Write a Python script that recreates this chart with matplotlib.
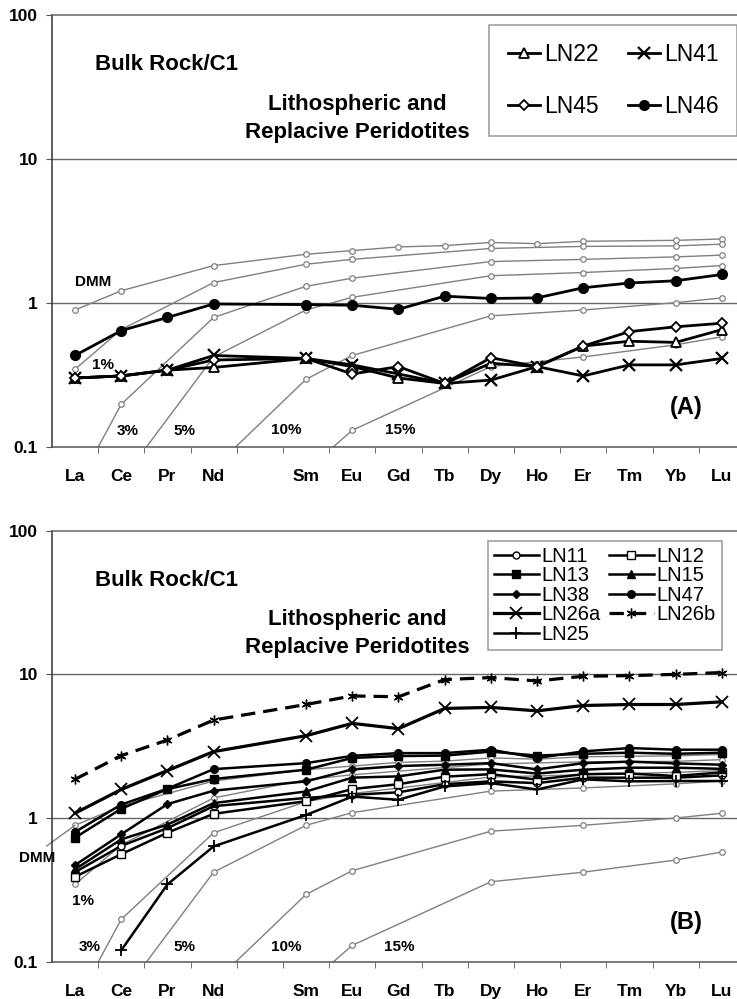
import numpy as np
import matplotlib.pyplot as plt
from matplotlib.ticker import NullLocator

plt.rcParams['font.family'] = ['Liberation Sans', 'DejaVu Sans']

# category axis (Pm left empty) and the REE that carry values
ticks = ["La", "Ce", "Pr", "Nd", "", "Sm", "Eu", "Gd", "Tb", "Dy", "Ho", "Er", "Tm", "Yb", "Lu"]
ree = ["La", "Ce", "Pr", "Nd", "Sm", "Eu", "Gd", "Tb", "Dy", "Ho", "Er", "Tm", "Yb", "Lu"]
nan = np.nan

# melting model curves, drawn in both panels
dmm = [0.89, 1.21, nan, 1.81, 2.17, 2.30, 2.44, 2.49, 2.62, 2.57, 2.67, nan, 2.71, 2.77]
melt_1 = [0.345, 0.65, nan, 1.38, 1.85, 2.0, nan, nan, 2.38, nan, 2.46, nan, 2.48, 2.55]
melt_3 = [0.05, 0.197, nan, 0.79, 1.30, 1.48, nan, nan, 1.93, nan, 2.0, nan, 2.08, 2.14]
melt_5 = [0.015, 0.058, nan, 0.42, 0.89, 1.09, nan, nan, 1.54, nan, 1.62, nan, 1.73, 1.81]
melt_10 = [nan, nan, nan, 0.071, 0.294, 0.43, nan, nan, 0.81, nan, 0.89, nan, 1.0, 1.08]
melt_15 = [nan, nan, nan, nan, 0.068, 0.13, nan, nan, 0.36, nan, 0.42, nan, 0.51, 0.58]

# panel A samples
ln22 = [0.30, 0.31, 0.34, 0.355, 0.41, 0.36, 0.30, 0.275, 0.38, 0.36, 0.50, 0.54, 0.53, 0.65]
ln41 = [0.30, 0.31, 0.34, 0.43, 0.41, 0.37, 0.32, 0.275, 0.29, 0.36, 0.31, 0.37, 0.37, 0.41]
ln45 = [0.30, 0.31, 0.34, 0.40, 0.41, 0.32, 0.36, 0.275, 0.415, 0.36, 0.50, 0.63, 0.68, 0.72]
ln46 = [0.43, 0.64, 0.79, 0.98, 0.97, 0.96, 0.90, 1.11, 1.07, 1.08, 1.27, 1.37, 1.42, 1.57]

# panel B samples
ln11 = [0.42, 0.64, 0.85, 1.21, 1.38, 1.45, 1.51, 1.72, 1.80, 1.75, 1.91, 1.91, 1.91, 1.98]
ln12 = [0.39, 0.56, 0.79, 1.07, 1.31, 1.59, 1.72, 1.94, 2.02, 1.85, 2.02, 2.04, 1.96, 2.08]
ln13 = [0.73, 1.16, 1.59, 1.87, 2.17, 2.62, 2.70, 2.72, 2.90, 2.72, 2.80, 2.85, 2.80, 2.85]
ln15 = [0.44, 0.71, 0.90, 1.27, 1.53, 1.91, 1.95, 2.17, 2.18, 2.04, 2.17, 2.24, 2.24, 2.20]
ln38 = [0.47, 0.77, 1.25, 1.55, 1.80, 2.18, 2.30, 2.35, 2.41, 2.18, 2.41, 2.47, 2.40, 2.35]
ln47 = [0.80, 1.24, 1.60, 2.19, 2.41, 2.71, 2.83, 2.83, 2.99, 2.62, 2.91, 3.07, 2.99, 2.99]
ln26a = [1.08, 1.58, 2.14, 2.90, 3.74, 4.56, 4.19, 5.79, 5.89, 5.57, 6.07, 6.17, 6.17, 6.44]
ln26b = [1.86, 2.72, 3.49, 4.81, 6.17, 7.08, 6.98, 9.2, 9.5, 9.0, 9.7, 9.8, 10.0, 10.3]
ln25 = [nan, 0.12, 0.345, 0.635, 1.05, 1.41, 1.34, 1.66, 1.75, 1.58, 1.86, 1.80, 1.81, 1.81]

pos = np.array([ticks.index(e) for e in ree])
GRAY = '#808080'
W, H = 737.0, 999.0

fig = plt.figure(figsize=(7.37, 9.99), dpi=100)


def make_axes(top_px, bottom_px):
    return fig.add_axes([51.9 / W, 1 - bottom_px / H, (745.0 - 51.9) / W,
                         (bottom_px - top_px) / H])


def series(ax, vals, **kw):
    v = np.array(vals, dtype=float)
    ok = ~np.isnan(v)
    return ax.plot(pos[ok], v[ok], **kw)[0]


def setup(ax):
    ax.set_yscale('log')
    ax.set_ylim(0.1, 100)
    ax.set_xlim(-0.5, 14.5)
    ax.set_yticks([0.1, 1, 10, 100])
    ax.set_yticklabels(['0.1', '1', '10', '100'], fontweight='bold', fontsize=12.5)
    ax.yaxis.set_minor_locator(NullLocator())
    ax.set_xticks(range(len(ticks)))
    ax.set_xticklabels(ticks, fontweight='bold', fontsize=12.5)
    ax.set_xticks(np.arange(0.5, 14, 1), minor=True)
    ax.tick_params(axis='x', which='major', length=0, pad=16)
    ax.tick_params(axis='x', which='minor', length=4, direction='out', color='#555555')
    ax.tick_params(axis='y', length=4, pad=6, color='#555555')
    for y in (1, 10):
        ax.axhline(y, color='#666666', lw=1, zorder=1)
    ax.spines['right'].set_visible(False)
    ax.spines['top'].set_color('#666666')
    ax.spines['left'].set_color('#333333')
    ax.spines['bottom'].set_color('#555555')
    for s in ('left', 'bottom', 'top'):
        ax.spines[s].set_linewidth(1.1)
    mk = dict(color=GRAY, lw=1, marker='o', ms=4, mfc='white', mec=GRAY, mew=0.9, zorder=2)
    for m in (dmm, melt_1, melt_3, melt_5, melt_10, melt_15):
        series(ax, m, **mk)


def labels(ax, tag, pct_pos, dmm_pos):
    ax.text(0.0615, 0.885, 'Bulk Rock/C1', transform=ax.transAxes, fontsize=16,
            fontweight='bold', ha='left', va='center')
    ax.text(0.4402, 0.793, 'Lithospheric and', transform=ax.transAxes, fontsize=16,
            fontweight='bold', ha='center', va='center')
    ax.text(0.4402, 0.728, 'Replacive Peridotites', transform=ax.transAxes, fontsize=16,
            fontweight='bold', ha='center', va='center')
    ax.text(0.9156, 0.09, tag, transform=ax.transAxes, fontsize=17,
            fontweight='bold', ha='center', va='center')
    for txt, (x, y) in zip(['1%', '3%', '5%', '10%', '15%'], pct_pos):
        ax.text(x, y, txt, transform=ax.transAxes, fontsize=11, fontweight='bold',
                ha='center', va='center')
    ax.text(dmm_pos[0], dmm_pos[1], 'DMM', transform=ax.transAxes, fontsize=11,
            fontweight='bold', ha='center', va='center', clip_on=False)


# ---------- panel A ----------
ax1 = make_axes(14.7, 446.7)
setup(ax1)
thick = dict(color='black', lw=2.0, zorder=4)
h22 = series(ax1, ln22, marker='^', ms=6.5, mfc='white', mec='black', mew=1.3, label='LN22', **thick)
h41 = series(ax1, ln41, marker='x', ms=8, mec='black', mew=1.6, label='LN41', **thick)
h45 = series(ax1, ln45, marker='D', ms=5.5, mfc='white', mec='black', mew=1.3, label='LN45', **thick)
h46 = series(ax1, ln46, marker='o', ms=7, mfc='black', mec='black', label='LN46', **thick)
labels(ax1, '(A)',
       [(0.0742, 0.189), (0.110, 0.037), (0.192, 0.037), (0.3388, 0.0387), (0.5022, 0.0387)],
       (0.0597, 0.382))
leg1 = ax1.legend([h22, h45, h41, h46], ['LN22', 'LN45', 'LN41', 'LN46'], ncol=2,
                  loc='upper left', bbox_to_anchor=(0.631, 0.976), borderaxespad=0,
                  fontsize=16.5, frameon=True, fancybox=False, edgecolor=GRAY,
                  handlelength=1.4, handletextpad=0.18, columnspacing=1.3,
                  labelspacing=1.25, borderpad=0.8, numpoints=1)
leg1.get_frame().set_linewidth(1.1)

# ---------- panel B ----------
ax2 = make_axes(530.7, 961.7)
setup(ax2)
mid = dict(color='black', lw=1.8, zorder=4)
b11 = series(ax2, ln11, marker='o', ms=5, mfc='white', mec='black', mew=1.0, label='LN11', **mid)
b12 = series(ax2, ln12, marker='s', ms=5.5, mfc='white', mec='black', mew=1.0, label='LN12', **mid)
b13 = series(ax2, ln13, marker='s', ms=5.5, mfc='black', mec='black', label='LN13', **mid)
b15 = series(ax2, ln15, marker='^', ms=5.5, mfc='black', mec='black', label='LN15', **mid)
b38 = series(ax2, ln38, marker='D', ms=4, mfc='black', mec='black', label='LN38', **mid)
b47 = series(ax2, ln47, marker='o', ms=5.5, mfc='black', mec='black', label='LN47', **mid)
b26a = series(ax2, ln26a, marker='x', ms=9, mec='black', mew=1.3, label='LN26a', color='black',
              lw=2.3, zorder=4)
b26b = series(ax2, ln26b, marker=(6, 2, 0), ms=7, mec='black', mew=1.0, label='LN26b',
              color='black', lw=2.3, dashes=(4.5, 2.5), zorder=4)
b25 = series(ax2, ln25, marker='+', ms=9, mec='black', mew=1.3, label='LN25', **mid)
labels(ax2, '(B)',
       [(0.0453, 0.1415), (0.055, 0.0334), (0.192, 0.0334), (0.3388, 0.034), (0.5016, 0.034)],
       (-0.0206, 0.2406))
# leader line from the DMM label to the DMM curve
ax2.plot([-0.61, 0], [0.64, dmm[0]], color=GRAY, lw=1, clip_on=False, zorder=2)
order = [b11, b13, b38, b26a, b25, b12, b15, b47, b26b]
leg2 = ax2.legend(order, [h.get_label() for h in order], ncol=2,
                  loc='upper left', bbox_to_anchor=(0.629, 0.977), borderaxespad=0,
                  fontsize=14.5, frameon=True, fancybox=False, edgecolor=GRAY,
                  handlelength=2.2, handletextpad=0.12, columnspacing=0.45,
                  labelspacing=0.02, borderpad=0.32, numpoints=1)
leg2.get_frame().set_linewidth(1.1)

fig.savefig('out.png', dpi=100)
